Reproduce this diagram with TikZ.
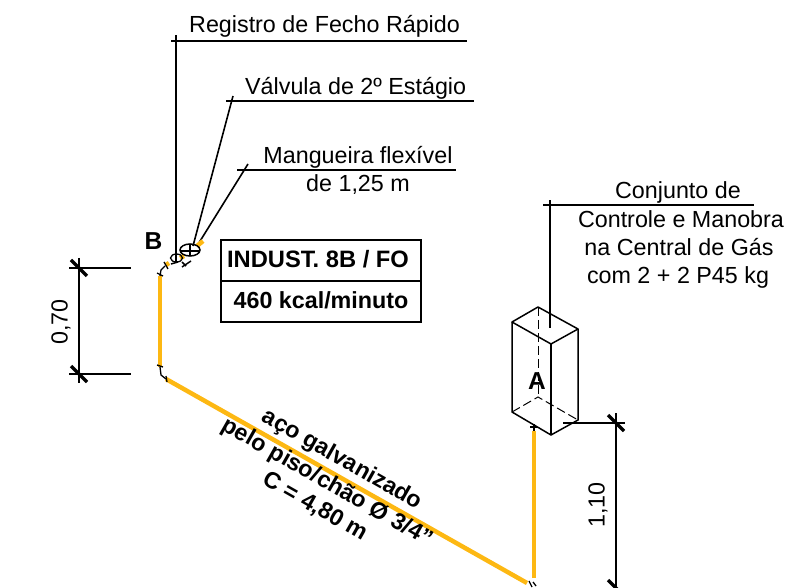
\documentclass[tikz,border=0pt]{standalone}
\usepackage{fontspec}
\setmainfont{Liberation Sans}
\begin{document}
\begin{tikzpicture}[x=1pt,y=-1pt,
  lbl/.style={inner sep=0pt,font=\fontsize{23.3}{26}\selectfont,text=black},
  blbl/.style={inner sep=0pt,font=\fontsize{23.3}{26}\selectfont\bfseries,text=black},
  bigl/.style={inner sep=0pt,font=\fontsize{24.5}{26}\selectfont\bfseries,text=black},
  tabl/.style={inner sep=0pt,font=\fontsize{23.7}{26}\selectfont\bfseries,text=black},
  lead/.style={draw=black,line width=1.6pt},
  dimn/.style={draw=black,line width=1.5pt},
  tick/.style={draw=black,line width=3.2pt},
  pipe/.style={draw=pipeY,line width=4.5pt},
  elbow/.style={draw=black,line width=1.3pt},
  hid/.style={draw=black,line width=1pt,dash pattern=on 9pt off 4pt}]
\definecolor{pipeY}{RGB}{253,184,19}
\useasboundingbox (0,0) rectangle (796,588);
% leaders
\coordinate (r1) at (176,263); \coordinate (r2) at (176,35); \coordinate (r0) at (171,41); \coordinate (r3) at (467,41);
\draw[lead] (r1) -- (r2);
\draw[lead] (r0) -- (r3);
\coordinate (v1) at (193,246); \coordinate (v2) at (233,96); \coordinate (v0) at (226,101); \coordinate (v3) at (474,101);
\draw[lead] (v1) -- (v2);
\draw[lead] (v0) -- (v3);
\coordinate (m1) at (197,246); \coordinate (m2) at (248,164); \coordinate (m0) at (237,170); \coordinate (m3) at (456,170);
\draw[lead] (m1) -- (m2);
\draw[lead] (m0) -- (m3);
\coordinate (c1) at (550,328); \coordinate (c2) at (550,200); \coordinate (c0) at (543,205); \coordinate (c3) at (754,205);
\draw[lead] (c1) -- (c2);
\draw[lead] (c0) -- (c3);
% labels
\node[lbl,anchor=base west] (t1) at (189,33) {Registro de Fecho Rápido};
\node[lbl,anchor=base west] (t2) at (245,95) {Válvula de 2º Estágio};
\node[lbl,anchor=base] (t3) at (358,164) {Mangueira flexível};
\node[lbl,anchor=base] (t4) at (358,192) {de 1,25 m};
\node[lbl,anchor=base] (t5) at (678,199) {Conjunto de};
\node[lbl,anchor=base] (t6) at (681,228) {Controle e Manobra};
\node[lbl,anchor=base] (t7) at (679,256) {na Central de Gás};
\node[lbl,anchor=base] (t8) at (678,284) {com 2 + 2 P45 kg};
\node[bigl,anchor=base] (lb) at (153.5,250) {B};
\node[bigl,anchor=base] (la) at (537,389) {A};
% table
\node[draw=black,line width=1.5pt,minimum width=200pt,minimum height=82pt,inner sep=0pt] (box) at (321,281) {};
\draw[line width=1.5pt] (box.west) -- (box.east);
\node[tabl,anchor=base] (b1) at (318,268) {INDUST. 8B / FO};
\node[blbl,anchor=base] (b2) at (321,309) {460 kcal/minuto};
% pipes
\coordinate (p1) at (160,276); \coordinate (p2) at (160,367);
\coordinate (p3) at (166,379); \coordinate (p4) at (527,583);
\coordinate (p5) at (534,578); \coordinate (p6) at (534,431);
\draw[pipe] (p1) -- (p2);
\draw[pipe] (p3) -- (p4);
\draw[pipe] (p5) -- (p6);
\draw[pipe] (197,246) -- (203,241);
\draw[pipe] (180,258) -- (184,256);
\draw[pipe] (166,265) -- (169,263);
% fittings
\draw[elbow] (160,276) -- (161,270) -- (165,266);
\draw[elbow] (157,273) -- (163,276);
\draw[elbow] (164,262) -- (168,269);
\draw[elbow] (160,367) -- (161,375) -- (166,379);
\draw[elbow] (157,365) -- (163,367);
\draw[elbow] (166,376) -- (167,382);
\draw[elbow] (529,581) -- (532,587);
\draw[elbow] (533,582) -- (536,586);
\draw[elbow] (530,427) -- (537,427);
\draw[elbow] (534,424) -- (534,431);
% valves
\draw[line width=1.3pt] (176.5,258) ellipse (6pt and 4pt);
\draw[line width=1.5pt] (190,250) ellipse (10pt and 6pt);
\draw[line width=1.5pt] (180,251) -- (200,251);
\draw[line width=1.5pt] (190,245) -- (190,256);
\draw[line width=1.5pt] (182,262) -- (186,266);
\draw[line width=1.5pt] (182,267) -- (191,261);
\draw[line width=1.5pt] (171,264) -- (178,262);
% box (isometric)
\coordinate (ta) at (512,322); \coordinate (tb) at (538,307); \coordinate (tc) at (578,329); \coordinate (td) at (551,344);
\coordinate (ba) at (512,412); \coordinate (bb) at (538,397); \coordinate (bc) at (578,420); \coordinate (bd) at (551,435);
\draw[line width=1.5pt,line join=round] (ta) -- (tb) -- (tc) -- (td) -- cycle;
\draw[line width=1.5pt] (ta) -- (ba) -- (bd) -- (bc) -- (tc);
\draw[line width=1.5pt] (td) -- (bd);
\draw[hid] (tb) -- (bb);
\draw[hid] (ba) -- (bb) -- (bc);
% dimensions
\draw[dimn] (69,268) -- (131,268);
\draw[dimn] (69,374) -- (131,374);
\draw[dimn] (79,258) -- (79,383);
\draw[tick] (71,260) -- (87,276);
\draw[tick] (71,366) -- (87,382);
\node[lbl,rotate=90,anchor=center] (d70) at (61,322) {0,70};
\draw[dimn] (563,423) -- (625,423);
\draw[dimn] (616,413) -- (616,588);
\draw[tick] (608,415) -- (624,431);
\draw[tick] (608,580) -- (618,590);
\node[lbl,rotate=90,anchor=center] (d110) at (598,505) {1,10};
% pipe text
\node[blbl,rotate=-29.6,anchor=center] (a1) at (342,460) {aço galvanizado};
\node[blbl,rotate=-29.6,anchor=center] (a2) at (327,483) {pelo piso/chão Ø 3/4"};
\node[blbl,rotate=-29.6,anchor=center] (a3) at (315,507) {C = 4,80 m};
\end{tikzpicture}
\end{document}
